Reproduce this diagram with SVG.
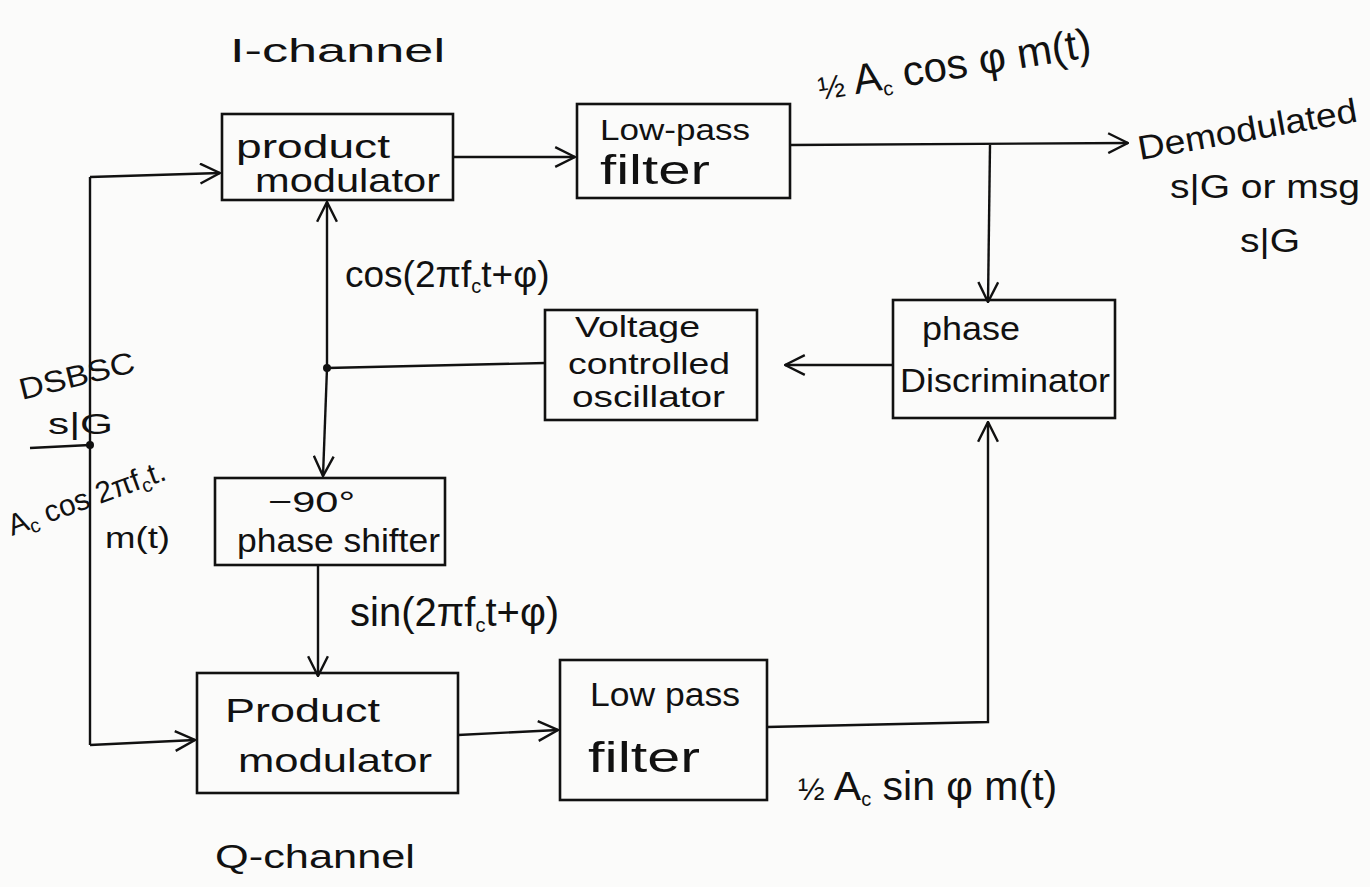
<svg xmlns="http://www.w3.org/2000/svg" width="1370" height="887" viewBox="0 0 1370 887">
<style>
.bg{fill:#fbfbfa}
.box{fill:none;stroke:#111;stroke-width:2.6}
.ln{fill:none;stroke:#111;stroke-width:2.4}
text{font-family:"Liberation Sans","DejaVu Sans",sans-serif;fill:#111;font-size:34px}
.sm{font-size:30px}
.sub{font-size:20px}
</style>
<defs>
<marker id="arr" viewBox="0 0 20 20" refX="19" refY="10" markerWidth="22" markerHeight="22" markerUnits="userSpaceOnUse" orient="auto">
<polyline points="1,1 19,10 1,19" fill="none" stroke="#111" stroke-width="2.2"/>
</marker>
</defs>
<rect class="bg" x="0" y="0" width="1370" height="887"/>

<g id="connectors">
<line class="ln" x1="30" y1="448" x2="90" y2="445"/>
<circle cx="90" cy="445" r="4" fill="#111"/>
<line class="ln" x1="90" y1="177" x2="90" y2="745"/>
<line class="ln" x1="90" y1="177" x2="220" y2="173" marker-end="url(#arr)"/>
<line class="ln" x1="90" y1="745" x2="195" y2="740" marker-end="url(#arr)"/>
<line class="ln" x1="453" y1="157" x2="575" y2="157" marker-end="url(#arr)"/>
<line class="ln" x1="790" y1="145" x2="1128" y2="143" marker-end="url(#arr)"/>
<line class="ln" x1="990" y1="145" x2="988" y2="302" marker-end="url(#arr)"/>
<line class="ln" x1="893" y1="365" x2="785" y2="365" marker-end="url(#arr)"/>
<line class="ln" x1="545" y1="363" x2="327" y2="368"/>
<circle cx="327" cy="368" r="4" fill="#111"/>
<line class="ln" x1="327" y1="368" x2="327" y2="202" marker-end="url(#arr)"/>
<line class="ln" x1="327" y1="368" x2="323" y2="476" marker-end="url(#arr)"/>
<line class="ln" x1="318" y1="565" x2="318" y2="676" marker-end="url(#arr)"/>
<line class="ln" x1="458" y1="735" x2="558" y2="730" marker-end="url(#arr)"/>
<polyline class="ln" points="767,727 988,722 988,422" marker-end="url(#arr)"/>
</g>

<g id="pm-top">
<rect class="box" x="222" y="114" width="231" height="86"/>
<text x="236" y="158" textLength="154" lengthAdjust="spacingAndGlyphs">product</text>
<text x="255" y="192" textLength="185" lengthAdjust="spacingAndGlyphs">modulator</text>
</g>

<g id="lpf-top">
<rect class="box" x="577" y="104" width="213" height="94"/>
<text x="600" y="140" class="sm" textLength="150" lengthAdjust="spacingAndGlyphs">Low-pass</text>
<text x="600" y="184" style="font-size:40px" textLength="110" lengthAdjust="spacingAndGlyphs">filter</text>
</g>

<g id="phase-disc">
<rect class="box" x="893" y="300" width="222" height="118"/>
<text x="922" y="340" textLength="98" lengthAdjust="spacingAndGlyphs">phase</text>
<text x="900" y="392" textLength="210" lengthAdjust="spacingAndGlyphs">Discriminator</text>
</g>

<g id="vco">
<rect class="box" x="545" y="310" width="212" height="110"/>
<text x="575" y="337" class="sm" textLength="125" lengthAdjust="spacingAndGlyphs">Voltage</text>
<text x="568" y="374" class="sm" textLength="162" lengthAdjust="spacingAndGlyphs">controlled</text>
<text x="572" y="407" class="sm" textLength="153" lengthAdjust="spacingAndGlyphs">oscillator</text>
</g>

<g id="phase-shifter">
<rect class="box" x="215" y="478" width="230" height="87"/>
<text x="268" y="512" class="sm" textLength="87" lengthAdjust="spacingAndGlyphs">−90°</text>
<text x="237" y="552" textLength="203" lengthAdjust="spacingAndGlyphs">phase shifter</text>
</g>

<g id="pm-bottom">
<rect class="box" x="197" y="673" width="261" height="120"/>
<text x="225" y="722" textLength="155" lengthAdjust="spacingAndGlyphs">Product</text>
<text x="238" y="772" textLength="194" lengthAdjust="spacingAndGlyphs">modulator</text>
</g>

<g id="lpf-bottom">
<rect class="box" x="560" y="660" width="207" height="140"/>
<text x="590" y="706" textLength="150" lengthAdjust="spacingAndGlyphs">Low pass</text>
<text x="588" y="772" style="font-size:42px" textLength="112" lengthAdjust="spacingAndGlyphs">filter</text>
</g>

<g id="labels">
<text x="230" y="62" textLength="215" lengthAdjust="spacingAndGlyphs">I-channel</text>
<text x="215" y="868" textLength="200" lengthAdjust="spacingAndGlyphs">Q-channel</text>
<text x="345" y="287" style="font-size:37px">cos(2πf<tspan class="sub" dy="6">c</tspan><tspan dy="-6">t+φ)</tspan></text>
<text x="350" y="626" style="font-size:40px">sin(2πf<tspan class="sub" dy="6">c</tspan><tspan dy="-6">t+φ)</tspan></text>
<text x="820" y="100" style="font-size:42px" transform="rotate(-9 820 100)"><tspan style="font-size:32px">½</tspan> A<tspan class="sub" dy="6">c</tspan><tspan dy="-6"> cos φ m(t)</tspan></text>
<text x="798" y="800" style="font-size:41px"><tspan style="font-size:32px">½</tspan> A<tspan class="sub" dy="6">c</tspan><tspan dy="-6"> sin φ m(t)</tspan></text>
<text x="1140" y="160" transform="rotate(-10 1140 160)" textLength="222" lengthAdjust="spacingAndGlyphs">Demodulated</text>
<text x="1170" y="198" textLength="190" lengthAdjust="spacingAndGlyphs">s|G or msg</text>
<text x="1240" y="252" textLength="60" lengthAdjust="spacingAndGlyphs">s|G</text>
<text x="22" y="400" class="sm" transform="rotate(-14 22 400)" textLength="118" lengthAdjust="spacingAndGlyphs">DSBSC</text>
<text x="48" y="434" class="sm" textLength="65" lengthAdjust="spacingAndGlyphs">s|G</text>
<text x="12" y="536" class="sm" transform="rotate(-20 12 536)">A<tspan class="sub" dy="5">c</tspan><tspan dy="-5"> cos 2πf</tspan><tspan class="sub" dy="5">c</tspan><tspan dy="-5">t.</tspan></text>
<text x="105" y="548" class="sm" textLength="65" lengthAdjust="spacingAndGlyphs">m(t)</text>
</g>
</svg>
